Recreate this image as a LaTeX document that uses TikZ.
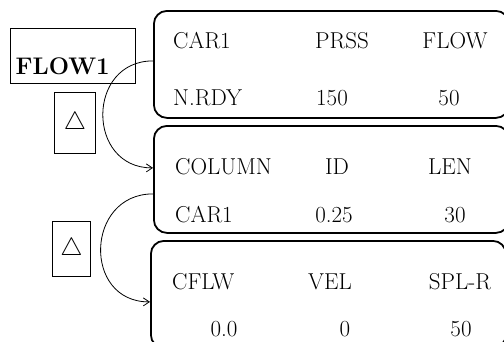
\documentclass[tikz,border=0pt]{standalone}
\usepackage{fix-cm}
\usepackage{fontspec}
\setmainfont{Latin Modern Roman}
\usepackage{tikz}
\usetikzlibrary{arrows.meta, positioning}

\begin{document}
\begin{tikzpicture}[
    x=1pt, y=-1pt,
    panel/.style = {
        rectangle,
        rounded corners=13pt,
        draw,
        line width=1.8pt,
        minimum width=355pt,
        minimum height=107pt,
        inner sep=0pt,
        anchor=north west
    },
    cell/.style = {font=\fontsize{23}{26}\selectfont, inner sep=0pt, anchor=base},
    first/.style = {cell, anchor=base west},
    tag/.style = {rectangle, draw, line width=1.2pt, inner sep=0pt, anchor=north west,
        font=\fontsize{25}{25}\selectfont},
    flowtag/.style = {
        rectangle,
        draw,
        line width=1.2pt,
        inner xsep=5pt,
        inner ysep=0pt,
        text width=115pt,
        text height=46pt,
        text depth=9pt,
        align=left,
        anchor=south west,
        font=\fontsize{24}{24}\selectfont\bfseries
    },
    flowline/.style = {-{Straight Barb[length=6pt,width=8pt]}, line width=0.8pt, looseness=1.6}
]
\useasboundingbox (0,0) rectangle (504,341);
\clip (0,0) rectangle (504,341);

%% Record panels
\node[panel] (car)    at (153,10)  {};
\node[panel] (column) at (153,125) {};
\node[panel] (cflw)   at (150,240) {};

%% Panel texts
\node[first] (car-a) at (173,48)  {CAR1};
\node[cell]  (car-b) at (342,48)  {PRSS};
\node[cell]  (car-c) at (455,48)  {FLOW};
\node[first] (car-d) at (173,105) {N.RDY};
\node[cell]  (car-e) at (332,105) {150};
\node[cell]  (car-f) at (449,105) {50};

\node[first] (col-a) at (175,174) {COLUMN};
\node[cell]  (col-b) at (337,174) {ID};
\node[cell]  (col-c) at (450,174) {LEN};
\node[first] (col-d) at (175,222) {CAR1};
\node[cell]  (col-e) at (334,222) {0.25};
\node[cell]  (col-f) at (455,222) {30};

\node[first] (cfl-a) at (172,289) {CFLW};
\node[cell]  (cfl-b) at (330,289) {VEL};
\node[cell]  (cfl-c) at (460,289) {SPL-R};
\node[cell]  (cfl-d) at (224,336) {0.0};
\node[cell]  (cfl-e) at (345,336) {0};
\node[cell]  (cfl-f) at (461,336) {50};

%% Tags on the left
\node[flowtag] (flow1) at (10,84) {FLOW1};
\node[tag, minimum width=41pt, minimum height=61pt] (tri1) at (54,92)  {$\triangle$};
\node[tag, minimum width=38pt, minimum height=55pt] (tri2) at (52,221) {$\triangle$};

%% Links between panels
\draw[flowline] ([yshift=3.5pt]car.west) to[out=180,in=180] ([yshift=11.5pt]column.west);
\draw[flowline] ([yshift=-14.5pt]column.west) to[out=180,in=180] ([yshift=-7.5pt]cflw.west);

\end{tikzpicture}
\end{document}
